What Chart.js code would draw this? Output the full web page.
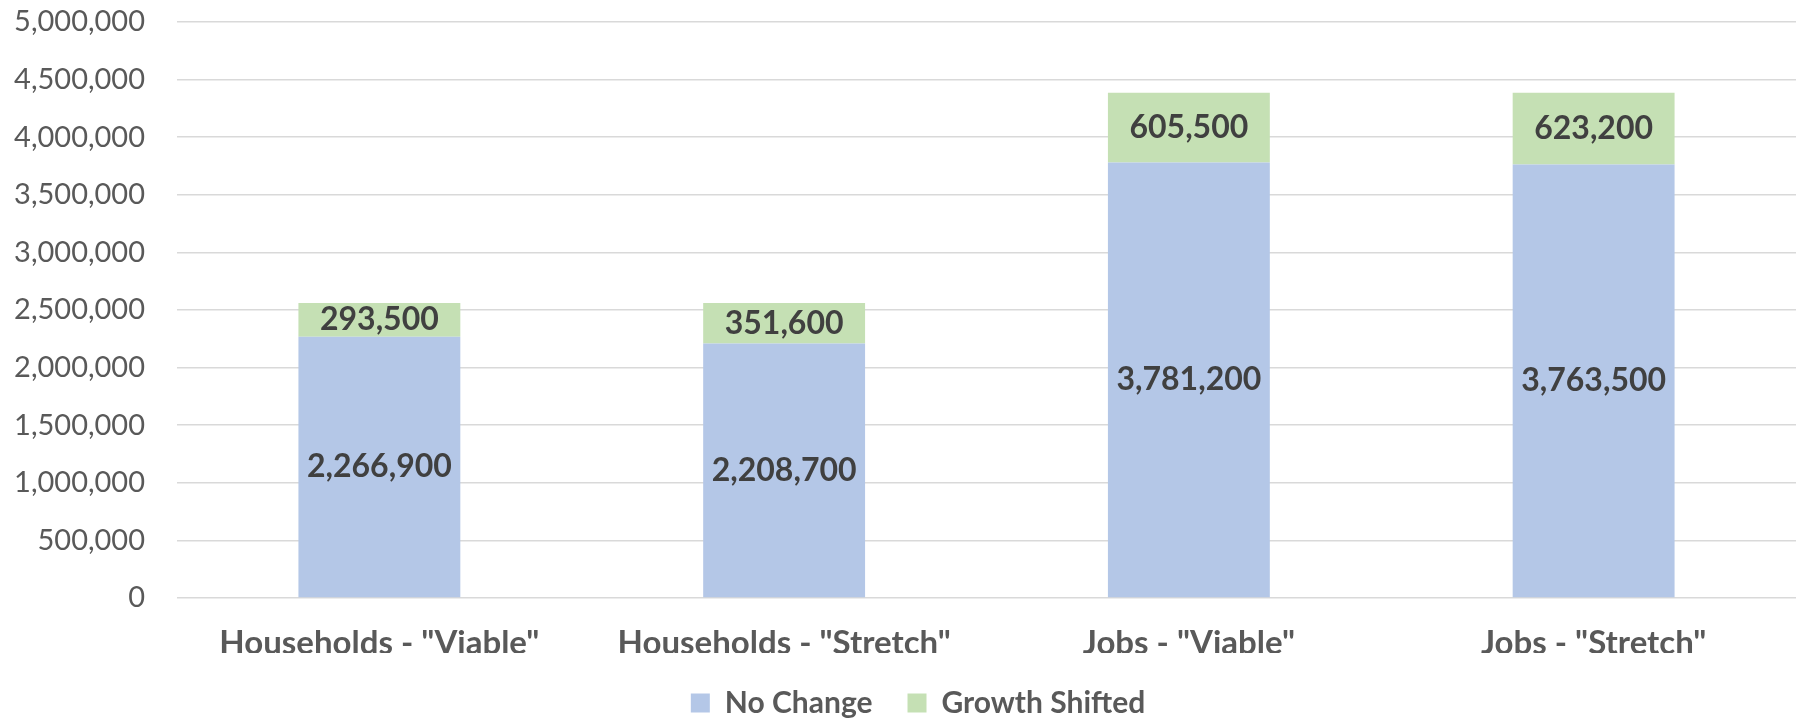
<!DOCTYPE html>
<html>
<head>
<meta charset="utf-8">
<script src="https://cdn.jsdelivr.net/npm/chart.js@4/dist/chart.umd.min.js"></script>
<style>
  html, body { margin: 0; padding: 0; background: #ffffff; }
  #wrap { width: 1797px; height: 721px; position: relative; }
</style>
</head>
<body>
<div id="wrap"><canvas id="c"></canvas></div>
<script>
const categories = ['Households - "Viable"', 'Households - "Stretch"', 'Jobs - "Viable"', 'Jobs - "Stretch"'];
const noChange = [2266900, 2208700, 3781200, 3763500];
const growthShifted = [293500, 351600, 605500, 623200];
const seriesNames = ['No Change', 'Growth Shifted'];
const yMin = 0, yMax = 5000000, yStep = 500000;

const fmt = v => Number(v).toLocaleString('en-US');

const segmentLabels = {
  id: 'segmentLabels',
  afterDatasetsDraw(chart) {
    const ctx = chart.ctx;
    ctx.save();
    ctx.font = 'bold 32px Lato';
    ctx.fillStyle = '#404040';
    ctx.textAlign = 'center';
    ctx.textBaseline = 'middle';
    chart.data.datasets.forEach((ds, di) => {
      const meta = chart.getDatasetMeta(di);
      meta.data.forEach((el, i) => {
        const p = el.getProps(['x', 'y', 'base'], true);
        ctx.fillText(fmt(ds.data[i]), p.x, (p.y + p.base) / 2);
      });
    });
    ctx.restore();
  }
};

const legendShift = {
  id: 'legendShift',
  afterLayout(chart) {
    if (chart.legend) { chart.legend.left += 20; chart.legend.right += 20; }
  }
};

new Chart(document.getElementById('c'), {
  type: 'bar',
  data: {
    labels: categories,
    datasets: [
      { label: seriesNames[0], data: noChange, backgroundColor: '#B4C7E7', categoryPercentage: 1, barPercentage: 0.4 },
      { label: seriesNames[1], data: growthShifted, backgroundColor: '#C5E0B4', categoryPercentage: 1, barPercentage: 0.4 }
    ]
  },
  options: {
    responsive: true,
    maintainAspectRatio: false,
    animation: false,
    layout: { padding: { top: 22, right: 1, left: 0, bottom: -7 } },
    plugins: {
      legend: {
        position: 'bottom',
        labels: {
          boxWidth: 19, boxHeight: 19, padding: 35,
          color: '#595959',
          font: { family: 'Lato', size: 30, weight: 'bold' }
        }
      },
      tooltip: { enabled: false }
    },
    scales: {
      x: {
        stacked: true,
        grid: { display: false, drawTicks: false },
        border: { display: false },
        ticks: { color: '#595959', padding: 26, font: { family: 'Lato', size: 33, weight: 'bold' } },
        afterFit(s) { s.height = 55; }
      },
      y: {
        stacked: true,
        min: yMin, max: yMax,
        grid: { color: '#D9D9D9', lineWidth: 1.5, drawTicks: false },
        border: { display: false },
        ticks: {
          stepSize: yStep,
          color: '#595959',
          padding: 32,
          font: { family: 'Lato', size: 29 },
          callback: v => fmt(v)
        },
        afterFit(s) { s.width = 177; s.paddingTop = 0; s.paddingBottom = 0; }
      }
    }
  },
  plugins: [segmentLabels, legendShift]
});
</script>
</body>
</html>
